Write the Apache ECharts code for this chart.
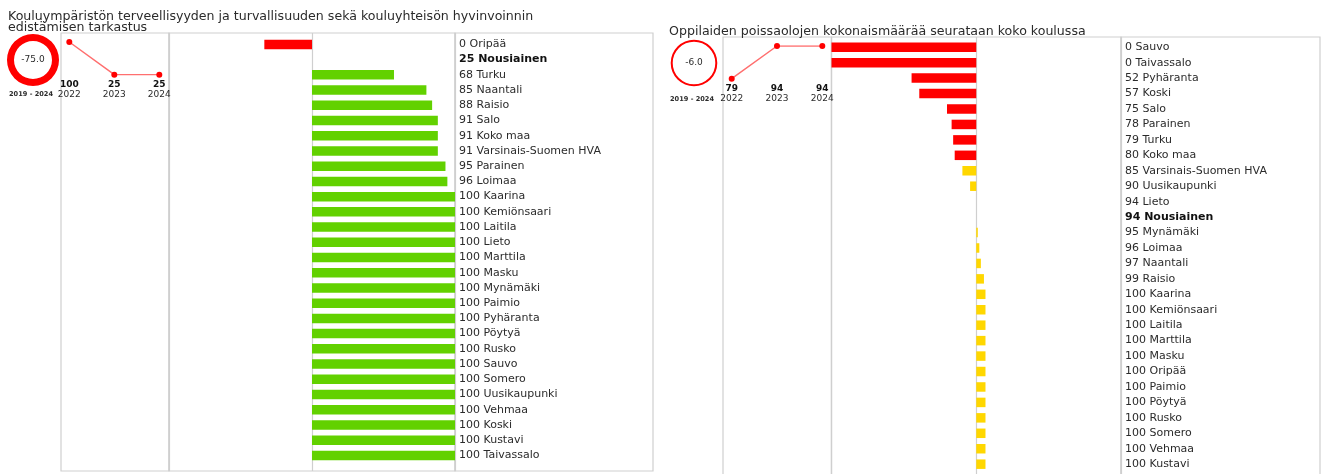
<!DOCTYPE html>
<html>
<head>
<meta charset="utf-8">
<script src="https://cdn.jsdelivr.net/npm/echarts@6/dist/echarts.min.js"></script>
<style>
html, body { margin: 0; padding: 0; background: #fff; }
#main { width: 1325px; height: 474px; }
</style>
</head>
<body>
<div id="main"></div>
<script>
// vasen paneeli: tarkastus
var leftTitle = 'Kouluympäristön terveellisyyden ja turvallisuuden sekä kouluyhteisön hyvinvoinnin\nedistämisen tarkastus';
var leftNames = ['Oripää', 'Nousiainen', 'Turku', 'Naantali', 'Raisio', 'Salo', 'Koko maa',
	'Varsinais-Suomen HVA', 'Parainen', 'Loimaa', 'Kaarina', 'Kemiönsaari', 'Laitila', 'Lieto',
	'Marttila', 'Masku', 'Mynämäki', 'Paimio', 'Pyhäranta', 'Pöytyä', 'Rusko', 'Sauvo', 'Somero',
	'Uusikaupunki', 'Vehmaa', 'Koski', 'Kustavi', 'Taivassalo'];
var leftValues = [0, 25, 68, 85, 88, 91, 91, 91, 95, 96, 100, 100, 100, 100,
	100, 100, 100, 100, 100, 100, 100, 100, 100, 100, 100, 100, 100, 100];
var leftYears = ['2022', '2023', '2024'];
var leftTrend = [100, 25, 25];
var leftChange = -75.0;

// oikea paneeli: poissaolot
var rightTitle = 'Oppilaiden poissaolojen kokonaismäärää seurataan koko koulussa';
var rightNames = ['Sauvo', 'Taivassalo', 'Pyhäranta', 'Koski', 'Salo', 'Parainen', 'Turku',
	'Koko maa', 'Varsinais-Suomen HVA', 'Uusikaupunki', 'Lieto', 'Nousiainen', 'Mynämäki',
	'Loimaa', 'Naantali', 'Raisio', 'Kaarina', 'Kemiönsaari', 'Laitila', 'Marttila', 'Masku',
	'Oripää', 'Paimio', 'Pöytyä', 'Rusko', 'Somero', 'Vehmaa', 'Kustavi'];
var rightValues = [0, 0, 52, 57, 75, 78, 79, 80, 85, 90, 94, 94, 95, 96, 97, 99, 100, 100,
	100, 100, 100, 100, 100, 100, 100, 100, 100, 100];
var rightYears = ['2022', '2023', '2024'];
var rightTrend = [79, 94, 94];
var rightChange = -6.0;

var period = '2019 - 2024';
var ownSchool = 'Nousiainen';

var RED = '#ff0000', GREEN = '#62d100', YELLOW = '#ffd700';
var FRAME = '#cfcfcf', TXT = '#2b2b2b';

var myChart = echarts.init(document.getElementById('main'));

// palkit = arvo - oman koulun arvo
function diffs(names, values, colorFn) {
	var ref = values[names.indexOf(ownSchool)];
	return values.map(function (v) {
		return { value: v - ref, itemStyle: { color: colorFn(v, ref) } };
	});
}
function maxAbs(data) {
	var m = 0;
	data.forEach(function (d) { m = Math.max(m, Math.abs(d.value)); });
	return m;
}
function labelFmt(names, values) {
	return function (name, idx) {
		var s = values[idx] + ' ' + name;
		return name === ownSchool ? '{b|' + s + '}' : s;
	};
}

var leftBars = diffs(leftNames, leftValues, function (v, ref) { return v < ref ? RED : GREEN; });
var rightBars = diffs(rightNames, rightValues, function (v) { return v < 85 ? RED : YELLOW; });
var leftMax = maxAbs(leftBars), rightMax = maxAbs(rightBars);

var hidden = { show: false };
function frameGrid(l, t, w, h) {
	return { left: l, top: t, width: w, height: h, show: true, borderColor: FRAME, borderWidth: 1.2,
		backgroundColor: 'transparent', outerBoundsMode: 'none' };
}
function plainGrid(l, t, w, h) {
	return { left: l, top: t, width: w, height: h, outerBoundsMode: 'none' };
}
function hiddenValueAxis(gi) {
	return { type: 'value', gridIndex: gi, show: false, splitLine: hidden };
}
function frameXAxis(gi, m) {
	return { type: 'value', gridIndex: gi, min: -m, max: m, interval: m,
		axisLine: hidden, axisTick: hidden, axisLabel: hidden,
		splitLine: { show: true, lineStyle: { color: FRAME, width: 1.2 } } };
}
function barXAxis(gi, m) {
	return { type: 'value', gridIndex: gi, min: -m, max: m, show: false, splitLine: hidden };
}
function barYAxis(gi, names, values) {
	return { type: 'category', gridIndex: gi, data: names, inverse: true, position: 'right',
		axisLine: hidden, axisTick: hidden, splitLine: hidden,
		axisLabel: { show: true, margin: 4, fontSize: 11, color: TXT, align: 'left',
			formatter: labelFmt(names, values),
			rich: { b: { fontSize: 11, fontWeight: 'bold', color: '#111' } } } };
}
function lineXAxis(gi, years, trend) {
	return { type: 'category', gridIndex: gi, data: years, boundaryGap: false,
		axisLine: hidden, axisTick: hidden, splitLine: hidden,
		axisLabel: { margin: 5, interval: 0, lineHeight: 10,
			formatter: function (y, idx) { return '{v|' + trend[idx] + '}\n{y|' + y + '}'; },
			rich: { v: { fontSize: 9, fontWeight: 'bold', color: '#111', lineHeight: 10 },
				y: { fontSize: 9, color: TXT, lineHeight: 10 } } } };
}
function lineYAxis(gi) {
	return { type: 'value', gridIndex: gi, min: 'dataMin', max: 'dataMax', show: false, splitLine: hidden };
}
function ring(center, radius, change) {
	return { type: 'pie', center: center, radius: radius, silent: true, animation: false,
		data: [{ value: 1, name: 'muutos' }], itemStyle: { color: RED },
		label: { show: true, position: 'center', formatter: change.toFixed(1), fontSize: 9, color: TXT },
		labelLine: hidden, emphasis: { disabled: true } };
}
function trendLine(gi, trend) {
	return { type: 'line', xAxisIndex: gi, yAxisIndex: gi, data: trend, silent: true,
		symbol: 'circle', symbolSize: 6, itemStyle: { color: RED },
		lineStyle: { color: '#ff6f6f', width: 1.5 } };
}
function bars(gi, data) {
	return { type: 'bar', xAxisIndex: gi, yAxisIndex: gi, data: data, barWidth: 9.5, silent: true };
}

var option = {
	animation: false,
	textStyle: { fontFamily: 'DejaVu Sans' },
	title: [
		{ text: leftTitle, left: 8, top: 11.5, padding: 0,
			textStyle: { fontSize: 12.6, fontWeight: 'normal', color: TXT, lineHeight: 11 } },
		{ text: rightTitle, left: 669, top: 24.5, padding: 0,
			textStyle: { fontSize: 12.6, fontWeight: 'normal', color: TXT, lineHeight: 14 } }
	],
	grid: [
		// vasen
		frameGrid(61, 33, 108, 438),
		frameGrid(169, 33, 286, 438),
		frameGrid(455, 33, 198, 438),
		plainGrid(169, 36.8, 286, 426.2),
		plainGrid(69.3, 42, 90, 32.7),
		// oikea
		frameGrid(723, 37, 108.5, 450),
		frameGrid(831.5, 37, 289.5, 450),
		frameGrid(1121, 37, 199, 450),
		plainGrid(831.5, 39.5, 289.5, 432.4),
		plainGrid(731.7, 46, 90.6, 32.7)
	],
	xAxis: [
		hiddenValueAxis(0), frameXAxis(1, leftMax), hiddenValueAxis(2), barXAxis(3, leftMax),
		lineXAxis(4, leftYears, leftTrend),
		hiddenValueAxis(5), frameXAxis(6, rightMax), hiddenValueAxis(7), barXAxis(8, rightMax),
		lineXAxis(9, rightYears, rightTrend)
	],
	yAxis: [
		hiddenValueAxis(0), hiddenValueAxis(1), hiddenValueAxis(2),
		barYAxis(3, leftNames, leftValues), lineYAxis(4),
		hiddenValueAxis(5), hiddenValueAxis(6), hiddenValueAxis(7),
		barYAxis(8, rightNames, rightValues), lineYAxis(9)
	],
	graphic: [
		{ type: 'text', left: 9, top: 91, style: { text: period, font: 'bold 6.6px "DejaVu Sans"', fill: TXT } },
		{ type: 'text', left: 670, top: 96, style: { text: period, font: 'bold 6.6px "DejaVu Sans"', fill: TXT } }
	],
	series: [
		ring([33, 60], [19, 26], leftChange),
		bars(3, leftBars),
		trendLine(4, leftTrend),
		ring([694, 63], [21.3, 23.3], rightChange),
		bars(8, rightBars),
		trendLine(9, rightTrend)
	]
};

myChart.setOption(option);
</script>
</body>
</html>
